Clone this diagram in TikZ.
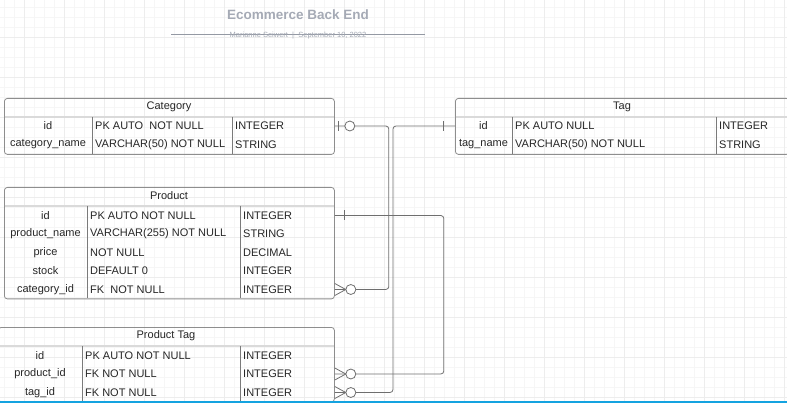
\documentclass[tikz,border=0pt]{standalone}
\usepackage{fontspec}
\setmainfont{Liberation Sans}
\usetikzlibrary{positioning,calc}

\definecolor{gridminor}{HTML}{F6F6F6}
\definecolor{gridmajor}{HTML}{EDEDED}
\definecolor{titlegray}{HTML}{A5AAB5}
\definecolor{edgegray}{HTML}{8E8E8E}
\definecolor{colgray}{HTML}{7A7A7A}
\definecolor{headgray}{HTML}{DADADA}
\definecolor{linkgray}{HTML}{6E6E6E}
\definecolor{selblue}{HTML}{14A3E0}

\begin{document}
\begin{tikzpicture}[x=1pt,y=-1pt,
  every node/.style={font=\fontsize{11}{12}\selectfont,inner sep=0pt,text=black!85},
  tbl/.style={draw=edgegray,line width=0.8pt,rounded corners=3pt,anchor=north west},
  headrule/.style={headgray,line width=1.6pt},
  coldiv/.style={colgray,line width=0.8pt},
  link/.style={linkgray,line width=0.8pt},
  optcirc/.style={circle,draw=linkgray,line width=0.8pt,fill=white,minimum size=10pt}]

  \useasboundingbox (0,0) rectangle (787,403);

  % background grid
  \foreach \gx in {4,14,...,784} \draw[gridminor,line width=0.6pt] (\gx,0) -- (\gx,403);
  \foreach \gy in {7,17,...,397} \draw[gridminor,line width=0.6pt] (0,\gy) -- (787,\gy);
  \foreach \gx in {24,64,...,784} \draw[gridmajor,line width=0.8pt] (\gx,0) -- (\gx,403);
  \foreach \gy in {37,77,...,397} \draw[gridmajor,line width=0.8pt] (0,\gy) -- (787,\gy);

  % title block
  \node[font=\fontsize{13.5}{15}\selectfont\bfseries,text=titlegray] (title) at (298,15) {Ecommerce Back End};
  \draw[titlegray!90!black,line width=0.9pt] (171,34.5) coordinate (subl) -- (425,34.5) coordinate (subr);
  \node[font=\fontsize{7.5}{8}\selectfont,text=titlegray] (subtitle) at (298,36) {Marianne Seiwert \ |\ \ September 10, 2022};

  % Category
  \node[tbl,minimum width=330pt,minimum height=56pt] (cat) at (4,98) {};
  \node (cat-head) at (169,107) {Category};
  \draw[headrule] (4.5,117) -- (333.5,117);
  \draw[coldiv] (92,117) -- (92,154);
  \draw[coldiv] (232,117) -- (232,154);
  \foreach \f/\c/\t [count=\i] in {id/PK AUTO\ \ NOT NULL/INTEGER,category\_name/VARCHAR(50) NOT NULL/STRING}{
    \node (cat-f\i) at (48,107.5+18.5*\i) {\f};
    \node[anchor=west] (cat-c\i) at (95,107.5+18.5*\i) {\c};
    \node[anchor=west] (cat-t\i) at (235,107.5+18.5*\i) {\t};
  }

  % Tag
  \node[tbl,minimum width=334pt,minimum height=56pt] (tag) at (455,98) {};
  \node (tag-head) at (622,107) {Tag};
  \draw[headrule] (455.5,117) -- (788.5,117);
  \draw[coldiv] (512,117) -- (512,154);
  \draw[coldiv] (716,117) -- (716,154);
  \foreach \f/\c/\t [count=\i] in {id/PK AUTO NULL/INTEGER,tag\_name/VARCHAR(50) NOT NULL/STRING}{
    \node (tag-f\i) at (483.5,107.5+18.5*\i) {\f};
    \node[anchor=west] (tag-c\i) at (515,107.5+18.5*\i) {\c};
    \node[anchor=west] (tag-t\i) at (719,107.5+18.5*\i) {\t};
  }

  % Product
  \node[tbl,minimum width=330pt,minimum height=111.5pt] (prod) at (4,187) {};
  \node (prod-head) at (169,196) {Product};
  \draw[headrule] (4.5,206) -- (333.5,206);
  \draw[coldiv] (87,206) -- (87,298.5);
  \draw[coldiv] (240,206) -- (240,298.5);
  \foreach \f/\c/\t [count=\i] in {id/PK AUTO NOT NULL/INTEGER,product\_name/VARCHAR(255) NOT NULL/STRING,
      price/NOT NULL/DECIMAL,stock/DEFAULT 0/INTEGER,category\_id/FK\ \ NOT NULL/INTEGER}{
    \node (prod-f\i) at (45.5,197+18.5*\i) {\f};
    \node[anchor=west] (prod-c\i) at (90,197+18.5*\i) {\c};
    \node[anchor=west] (prod-t\i) at (243,197+18.5*\i) {\t};
  }

  % Product Tag
  \node[tbl,minimum width=336pt,minimum height=74.5pt] (ptag) at (-2,327) {};
  \node (ptag-head) at (166,336) {Product Tag};
  \draw[headrule] (-1.5,346) -- (333.5,346);
  \draw[coldiv] (82,346) -- (82,401.5);
  \draw[coldiv] (240,346) -- (240,401.5);
  \foreach \f/\c/\t [count=\i] in {id/PK AUTO NOT NULL/INTEGER,product\_id/FK NOT NULL/INTEGER,tag\_id/FK NOT NULL/INTEGER}{
    \node (ptag-f\i) at (40,337+18.5*\i) {\f};
    \node[anchor=west] (ptag-c\i) at (85,337+18.5*\i) {\c};
    \node[anchor=west] (ptag-t\i) at (243,337+18.5*\i) {\t};
  }

  % connector ends
  \coordinate (catid) at (cat.east |- cat-f1);
  \coordinate (prodcat) at (prod.east |- prod-f5);
  \coordinate (tagid) at (tag.west |- tag-f1);
  \coordinate (ptagtag) at (ptag.east |- ptag-f3);
  \coordinate (prodid) at (prod.east |- prod-f1);
  \coordinate (ptagprod) at (ptag.east |- ptag-f2);

  % relations
  \draw[link,rounded corners=3pt] (catid) -- ++(54,0) |- (prodcat);
  \draw[link,rounded corners=3pt] (tagid) -- ++(-62,0) |- (ptagtag);
  \draw[link,rounded corners=3pt] (prodid) -- ++(109,0) |- (ptagprod);

  % one marks
  \draw[link] ($(catid)+(3.5,-5)$) -- ++(0,10);
  \node[optcirc] (catid-o) at ($(catid)+(15,0)$) {};
  \draw[link] ($(tagid)+(-11.5,-5)$) -- ++(0,10);
  \draw[link] ($(prodid)+(10,-5)$) -- ++(0,10);

  % many marks
  \foreach \e in {prodcat,ptagtag,ptagprod}{
    \draw[link] ($(\e)+(0,-6)$) -- ($(\e)+(11,0)$) -- ($(\e)+(0,6)$);
    \node[optcirc] (\e-o) at ($(\e)+(16,0)$) {};
  }

  % selection edge
  \draw[selblue,line width=2pt] (0,402) -- (787,402);
\end{tikzpicture}
\end{document}
